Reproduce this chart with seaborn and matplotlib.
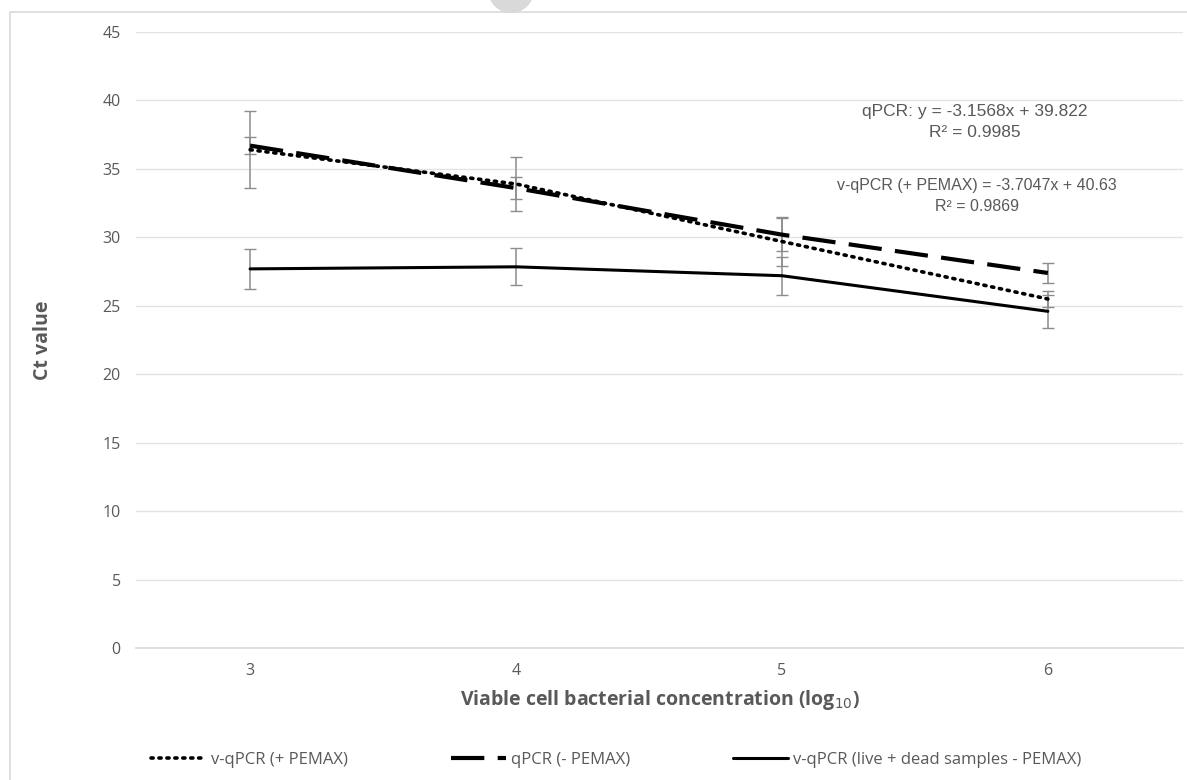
import pandas as pd
import matplotlib.pyplot as plt
import seaborn as sns
from matplotlib.patches import Rectangle, Ellipse

# ==============================================================
# data
# ==============================================================
log_conc = [3, 4, 5, 6]

ct_pemax = [36.4, 33.9, 29.7, 25.5]          # v-qPCR (+ PEMAX)
err_pemax = [2.8, 2.0, 1.8, 0.6]

ct_qpcr = [36.7, 33.6, 30.2, 27.4]           # qPCR (- PEMAX)
err_qpcr = [0.6, 0.8, 1.2, 0.7]

ct_live_dead = [27.7, 27.85, 27.2, 24.6]     # v-qPCR (live + dead samples - PEMAX)
err_live_dead = [1.45, 1.35, 1.4, 1.2]

labels = ['v-qPCR (+ PEMAX)', 'qPCR (- PEMAX)', 'v-qPCR (live + dead samples - PEMAX)']
y_ticks = [0, 5, 10, 15, 20, 25, 30, 35, 40, 45]

eq_qpcr = 'qPCR: y = -3.1568x + 39.822\nR² = 0.9985'
eq_pemax = 'v-qPCR (+ PEMAX) = -3.7047x + 40.63\nR² = 0.9869'

# ==============================================================
# style
# ==============================================================
sns.set_style('white')
plt.rcParams['font.family'] = ['Open Sans', 'DejaVu Sans']
txt_grey = '#595959'

df = pd.concat([
    pd.DataFrame({'x': log_conc, 'ct': ct_pemax, 'err': err_pemax, 'serie': labels[0]}),
    pd.DataFrame({'x': log_conc, 'ct': ct_qpcr, 'err': err_qpcr, 'serie': labels[1]}),
    pd.DataFrame({'x': log_conc, 'ct': ct_live_dead, 'err': err_live_dead, 'serie': labels[2]}),
])

fig = plt.figure(figsize=(11.87, 7.8), dpi=100)
ax = fig.add_axes([0.1146, 0.169, 0.882, 0.790])

# outer frame like the excel chart area + the small grey tab at the top
fig.patches.append(Rectangle((10 / 1187, -0.05), 1.2, 1 - 12 / 780 + 0.05,
                             transform=fig.transFigure, fill=False,
                             edgecolor='#d9d9d9', lw=1.2))
fig.patches.append(Ellipse((511 / 1187, 1 + 10 / 780), 46 / 1187, 46 / 780,
                           transform=fig.transFigure, facecolor='#d9d9d9',
                           edgecolor='none'))

styles = {
    labels[0]: dict(ls=(0, (0.6, 1.6)), lw=2.6, dash_capstyle='round'),
    labels[1]: dict(ls=(0, (8, 3.2)), lw=3.0),
    labels[2]: dict(ls='-', lw=2.2),
}

# error bars first, lines on top
for name, g in df.groupby('serie', sort=False):
    ax.errorbar(g['x'], g['ct'], yerr=g['err'], fmt='none', ecolor='#8c8c8c',
                elinewidth=1.1, capsize=4, capthick=1.0, zorder=2)

for name, g in df.groupby('serie', sort=False):
    sns.lineplot(data=g, x='x', y='ct', ax=ax, color='black', label=name,
                 zorder=3, **styles[name])

ax.set_xlim(2.571, 6.508)
ax.set_ylim(0, 45)
ax.set_xticks(log_conc)
ax.set_yticks(y_ticks)
ax.tick_params(axis='both', length=0, labelsize=11.5, colors=txt_grey, pad=11)
ax.grid(axis='y', color='#e3e3e3', lw=1)
for s in ['top', 'right', 'left']:
    ax.spines[s].set_visible(False)
ax.spines['bottom'].set_color('#d9d9d9')
ax.spines['bottom'].set_linewidth(1.2)

ax.set_ylabel('Ct value', fontsize=14, fontweight='bold', color=txt_grey, labelpad=36)
ax.set_xlabel('Viable cell bacterial concentration (log$_{10}$)', fontsize=14,
              fontweight='bold', color=txt_grey, labelpad=6)

ax.text(975 / 1187, 1 - 122 / 780, eq_qpcr, transform=fig.transFigure, ha='center',
        va='center', fontsize=12.5, color=txt_grey, family='Liberation Sans',
        linespacing=1.45)
ax.text(977 / 1187, 1 - 196 / 780, eq_pemax, transform=fig.transFigure, ha='center',
        va='center', fontsize=11.5, color=txt_grey, family='Liberation Sans',
        linespacing=1.55)

handles, lbls = ax.get_legend_handles_labels()
ax.get_legend().remove()
fig.legend(handles, lbls, loc='center', bbox_to_anchor=(0.519, 0.026), ncol=3,
           frameon=False, fontsize=12, labelcolor=txt_grey, handlelength=3.3,
           handletextpad=0.3, columnspacing=6.2)

plt.savefig('out.png', dpi=100)
